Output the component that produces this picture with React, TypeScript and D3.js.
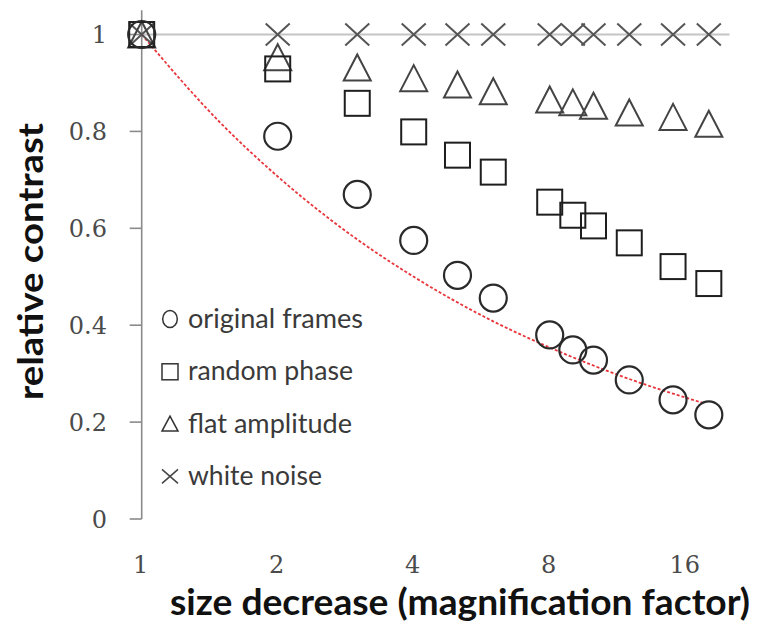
import React from "react";
import * as d3 from "d3";

const xValues = [1, 2, 3, 4, 5, 6, 8, 9, 10, 12, 15, 18];
const originalFrames = [1, 0.79, 0.67, 0.575, 0.503, 0.456, 0.38, 0.349, 0.328, 0.287, 0.246, 0.215];
const randomPhase = [1, 0.929, 0.858, 0.799, 0.751, 0.716, 0.654, 0.627, 0.605, 0.57, 0.521, 0.486];
const flatAmplitude = [1, 0.953, 0.932, 0.91, 0.897, 0.883, 0.866, 0.86, 0.853, 0.839, 0.83, 0.816];
const whiteNoise = [1, 1, 1, 1, 1, 1, 1, 1, 1, 1, 1, 1];

const fitX = [1, 1.5, 2, 3, 4, 6, 8, 12, 17.4];
const fitY = [1, 0.816, 0.707, 0.577, 0.5, 0.408, 0.354, 0.289, 0.24];

const xTicks = [1, 2, 4, 8, 16];
const yTicks = [0, 0.2, 0.4, 0.6, 0.8, 1];

const legendLabels = ["original frames", "random phase", "flat amplitude", "white noise"];
const legendTextLengths = [175, 165, 164, 134];

const W = 763;
const H = 629;

export default function App() {
  const x = d3.scaleLog().base(2).domain([1, 20]).range([141.7, 729.5]);
  const y = d3.scaleLinear().domain([0, 1.05]).range([519, 10.3]);

  const fitLine = d3
    .line<number>()
    .x((_, i) => x(fitX[i]))
    .y((d) => y(d))
    .curve(d3.curveMonotoneX)(fitY) as string;

  const circ = (cx: number, cy: number, r: number, sw: number, key: string) => (
    <circle key={key} cx={cx} cy={cy} r={r} fill="none" stroke="#2a2a2a" strokeWidth={sw} />
  );
  const sq = (cx: number, cy: number, h: number, sw: number, key: string) => (
    <rect key={key} x={cx - h} y={cy - h} width={2 * h} height={2 * h} fill="none" stroke="#1e1e1e" strokeWidth={sw} />
  );
  const tri = (cx: number, cy: number, w: number, h: number, sw: number, key: string) => (
    <path
      key={key}
      d={`M${cx},${cy - h} L${cx + w},${cy + h} L${cx - w},${cy + h} Z`}
      fill="none"
      stroke="#444"
      strokeWidth={sw}
    />
  );
  const cross = (cx: number, cy: number, w: number, h: number, sw: number, key: string) => (
    <path
      key={key}
      d={`M${cx - w},${cy - h} L${cx + w},${cy + h} M${cx - w},${cy + h} L${cx + w},${cy - h}`}
      stroke="#555"
      strokeWidth={sw}
      fill="none"
    />
  );

  const tickFont = "'DejaVu Serif', serif";
  const sansFont = "Lato, 'Open Sans', sans-serif";

  return (
    <svg
      width={W}
      height={H}
      viewBox={`0 0 ${W} ${H}`}
      style={{ position: "absolute", left: 0, top: 0, background: "#fff" }}
    >
      <rect x={0} y={0} width={W} height={H} fill="#fff" />

      {/* horizontal line at 1 */}
      <line x1={x(1)} x2={x(20)} y1={y(1)} y2={y(1)} stroke="#c4c4c4" strokeWidth={2} />

      {/* y axis */}
      <line x1={x(1)} x2={x(1)} y1={y(1.05)} y2={y(0)} stroke="#8a8a8a" strokeWidth={1.6} />
      {yTicks.map((t) => (
        <g key={`yt${t}`}>
          <line x1={x(1) - 12} x2={x(1)} y1={y(t)} y2={y(t)} stroke="#8a8a8a" strokeWidth={1.6} />
          <text
            x={107}
            y={y(t)}
            dy="0.36em"
            textAnchor="end"
            fontFamily={tickFont}
            fontSize={24}
            fill="#4a4a4a"
          >
            {String(t)}
          </text>
        </g>
      ))}

      {/* x tick labels */}
      {xTicks.map((t) => (
        <text
          key={`xt${t}`}
          x={x(t) - 1}
          y={573}
          textAnchor="middle"
          fontFamily={tickFont}
          fontSize={24}
          fill="#4a4a4a"
        >
          {t}
        </text>
      ))}

      {/* fit line */}
      <path d={fitLine} fill="none" stroke="#e8353b" strokeWidth={1.8} strokeDasharray="3,2" />

      {/* series markers */}
      {xValues.map((v, i) => cross(x(v), y(whiteNoise[i]), 12, 11, 2, `wn${i}`))}
      {xValues.map((v, i) => tri(x(v), y(flatAmplitude[i]), 13.5, 13, 2, `fa${i}`))}
      {xValues.map((v, i) => sq(x(v), y(randomPhase[i]), 12.5, 2, `rp${i}`))}
      {xValues.map((v, i) => circ(x(v), y(originalFrames[i]), 13.5, 2.2, `of${i}`))}

      {/* legend */}
      {legendLabels.map((lab, i) => {
        const base = 328 + i * 52.3;
        const cx = 170;
        const cy = base - 8.5;
        let sym: React.ReactNode;
        if (i === 0) sym = <ellipse cx={cx} cy={cy - 0.5} rx={7.3} ry={8.5} fill="none" stroke="#333" strokeWidth={1.5} />;
        else if (i === 1) sym = <rect x={cx - 8} y={cy - 8} width={16} height={16} fill="none" stroke="#333" strokeWidth={1.5} />;
        else if (i === 2)
          sym = (
            <path
              d={`M${cx},${cy - 8} L${cx + 8},${cy + 7} L${cx - 8},${cy + 7} Z`}
              fill="none"
              stroke="#333"
              strokeWidth={1.5}
            />
          );
        else
          sym = (
            <path
              d={`M${cx - 8},${cy - 7} L${cx + 8},${cy + 7} M${cx - 8},${cy + 7} L${cx + 8},${cy - 7}`}
              fill="none"
              stroke="#444"
              strokeWidth={1.5}
            />
          );
        return (
          <g key={`lg${i}`}>
            {sym}
            <text
              x={188}
              y={base}
              fontFamily={sansFont}
              fontSize={27}
              fill="#3a3a3a"
              textLength={legendTextLengths[i]}
              lengthAdjust="spacingAndGlyphs"
            >
              {lab}
            </text>
          </g>
        );
      })}

      {/* axis titles */}
      <text
        x={460}
        y={615}
        textAnchor="middle"
        fontFamily={sansFont}
        fontWeight="bold"
        fontSize={36}
        fill="#111"
        textLength={580}
        lengthAdjust="spacingAndGlyphs"
      >
        size decrease (magnification factor)
      </text>
      <text
        transform={`translate(43,261.5) rotate(-90)`}
        x={0}
        y={0}
        textAnchor="middle"
        fontFamily={sansFont}
        fontWeight="bold"
        fontSize={35}
        fill="#111"
        textLength={277}
        lengthAdjust="spacingAndGlyphs"
      >
        relative contrast
      </text>
    </svg>
  );
}
